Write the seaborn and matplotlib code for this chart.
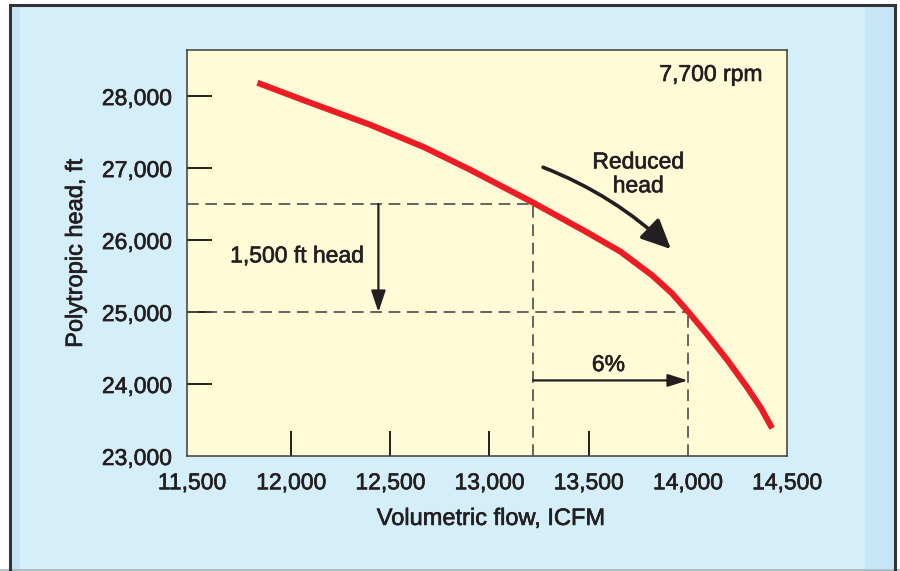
import matplotlib
matplotlib.use("Agg")
import matplotlib.pyplot as plt
import matplotlib.patches as mpatches
import matplotlib.lines as mlines
import matplotlib.patheffects as pe
import seaborn as sns
import pandas as pd

# curve
flow = [11830, 12070, 12400, 12670, 12900, 13220, 13490, 13660, 13820, 13920,
        14000, 14100, 14200, 14300, 14370, 14425]
head = [28185, 27935, 27600, 27290, 26980, 26520, 26110, 25840, 25510, 25260,
        25010, 24680, 24330, 23950, 23660, 23385]

x_ticks = [11500, 12000, 12500, 13000, 13500, 14000, 14500]
x_labels = ["11,500", "12,000", "12,500", "13,000", "13,500", "14,000", "14,500"]
y_ticks = [23000, 24000, 25000, 26000, 27000, 28000]
y_labels = ["23,000", "24,000", "25,000", "26,000", "27,000", "28,000"]

# operating points
q_a, h_a = 13220, 26500
q_b, h_b = 14000, 25000
head_arrow_x = 12440
flow_arrow_y = 24050

BG = "#d4eefa"
BAND = "#c6e6f7"
PLOT = "#fefbd6"
RED = "#ec1c24"
INK = "#231f20"
DASH = "#4a4a4a"

sns.set_theme(style="white")
plt.rcParams["font.family"] = ["Liberation Sans", "DejaVu Sans"]

fig = plt.figure(figsize=(9, 5.71), dpi=100, facecolor="white")
W, H = 900, 571


def px_rect(x0, y0, x1, y1, **kw):
    r = mpatches.Rectangle((x0 / W, 1 - y1 / H), (x1 - x0) / W, (y1 - y0) / H,
                           transform=fig.transFigure, **kw)
    fig.patches.append(r)


# panel background with side bands and frame
px_rect(9, 5, 896, 580, facecolor=BG, edgecolor="none", zorder=0)
px_rect(12, 5, 20, 580, facecolor=BAND, edgecolor="none", zorder=0)
px_rect(865, 5, 894, 580, facecolor=BAND, edgecolor="none", zorder=0)
px_rect(10, 5.5, 895, 590, facecolor="none", edgecolor="#333333", lw=2.2, zorder=1)
fig.lines.append(mlines.Line2D([0, 1], [1 - 569.5 / H] * 2, transform=fig.transFigure,
                               color="#a9b4bb", lw=1.2, zorder=1))

ax = fig.add_axes([187 / W, 1 - 456 / H, 600 / W, 406 / H])
ax.set_zorder(3)
ax.set_facecolor(PLOT)

df = pd.DataFrame({"flow": flow, "head": head})
sns.lineplot(data=df, x="flow", y="head", ax=ax, color=RED, lw=4.4,
             sort=False, estimator=None, zorder=5)
ax.lines[-1].set_solid_capstyle("butt")
ax.lines[-1].set_solid_joinstyle("round")

ax.set_xlim(11475, 14475)
ax.set_ylim(23000, 28640)

# dashed guide lines
dash_kw = dict(color=DASH, lw=1.2, ls=(0, (7, 4)), zorder=3)
ax.plot([11475, q_a], [h_a, h_a], **dash_kw)
ax.plot([11475, q_b], [h_b, h_b], **dash_kw)
ax.plot([q_a, q_a], [23000, h_a], **dash_kw)
ax.plot([q_b, q_b], [23000, h_b], **dash_kw)

# ticks: labels on majors, inward marks on minors
ax.xaxis.remove_overlapping_locs = False
ax.yaxis.remove_overlapping_locs = False
ax.set_xticks(x_ticks)
ax.set_xticklabels(x_labels)
ax.set_yticks(y_ticks)
ax.set_yticklabels(y_labels)
ax.set_xticks([12000, 12500, 13000, 13500], minor=True)
ax.set_yticks([24000, 25000, 26000, 27000, 28000], minor=True)
ax.tick_params(which="major", length=0, pad=11, labelsize=16.5, labelcolor=INK)
ax.tick_params(which="minor", direction="in", length=18, width=1.4, color=INK,
               bottom=True, left=True, labelbottom=False, labelleft=False)

for s in ax.spines.values():
    s.set_visible(True)
    s.set_color("#3c3c3c")
    s.set_linewidth(1.1)

heavy = [pe.withStroke(linewidth=0.45, foreground=INK)]

ax.set_xlabel("Volumetric flow, ICFM", fontsize=17, color=INK, va="center",
              path_effects=heavy)
ax.xaxis.set_label_coords(0.507, -0.155)
ax.set_ylabel("Polytropic head, ft", fontsize=17, color=INK, va="center",
              path_effects=heavy)
ax.yaxis.set_label_coords(-0.185, 0.5)
for lab in ax.get_xticklabels() + ax.get_yticklabels():
    lab.set_path_effects(heavy)

# annotations
ax.annotate("", xy=(head_arrow_x, h_b), xytext=(head_arrow_x, h_a),
            arrowprops=dict(arrowstyle="-|>,head_length=0.65,head_width=0.22",
                            mutation_scale=20, color=INK, lw=1.6,
                            shrinkA=0, shrinkB=0), zorder=6)
ax.annotate("", xy=(q_b, flow_arrow_y), xytext=(q_a, flow_arrow_y),
            arrowprops=dict(arrowstyle="-|>,head_length=0.6,head_width=0.19",
                            mutation_scale=20, color=INK, lw=1.6,
                            shrinkA=0, shrinkB=0), zorder=6)
ax.annotate("", xy=(13915, 25874), xytext=(13270, 27011),
            arrowprops=dict(arrowstyle="-|>,head_length=0.9,head_width=0.42",
                            mutation_scale=20, color=INK, lw=2.6,
                            connectionstyle="arc3,rad=-0.1",
                            shrinkA=0, shrinkB=0), zorder=6)

txt = dict(fontsize=16.5, color=INK, path_effects=heavy)
ax.text(14375, 28300, "7,700 rpm", ha="right", va="center", **txt)
ax.text(13750, 26920, "Reduced\nhead", ha="center", va="center",
        linespacing=1.05, **txt)
ax.text(12030, 25780, "1,500 ft head", ha="center", va="center", **txt)
ax.text(13600, 24270, "6%", ha="center", va="center", **txt)

fig.savefig("out.png", dpi=100, facecolor=fig.get_facecolor())
